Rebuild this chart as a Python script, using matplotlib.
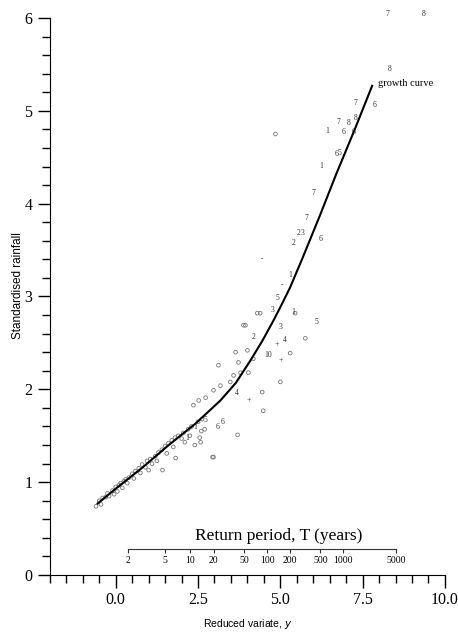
import numpy as np
import matplotlib.pyplot as plt
from matplotlib.ticker import MultipleLocator

# growth curve (reduced variate y, standardised rainfall)
curve_x = [-0.55, 0.0, 0.82, 1.61, 2.42, 3.18, 3.65, 4.09, 4.45, 4.79, 5.05, 5.30, 5.67, 6.2, 6.7, 7.25, 7.79]
curve_y = [0.77, 0.93, 1.16, 1.40, 1.63, 1.88, 2.07, 2.31, 2.52, 2.74, 2.92, 3.10, 3.41, 3.87, 4.32, 4.79, 5.27]

# small unlabelled points (dense lower part)
pts_x = [-0.6, -0.5, -0.45, -0.4, -0.3, -0.25, -0.2, -0.1, -0.05, 0.0, 0.05, 0.1, 0.15, 0.2,
         0.25, 0.3, 0.35, 0.4, 0.5, 0.55, 0.6, 0.7, 0.75, 0.8, 0.9, 0.95, 1.0, 1.05, 1.1, 1.2,
         1.25, 1.3, 1.4, 1.42, 1.5, 1.55, 1.6, 1.7, 1.75, 1.8, 1.82, 1.9, 2.0, 2.05, 2.1, 2.2,
         2.25, 2.3, 2.4, 2.5, 2.55, 2.58, 2.6, 2.62, 2.7, 2.94, 2.97, 3.7, 4.45, 4.48, 5.0,
         3.79, 4.03, 3.58, 3.12, 3.48, 3.18, 2.97, 2.73, 2.52, 2.36, 4.0, 3.64, 3.73, 4.18,
         5.3, 5.45, 5.76, 4.39, 3.88, 3.94, 4.3, 4.85]
pts_y = [0.74, 0.80, 0.76, 0.83, 0.84, 0.88, 0.85, 0.91, 0.87, 0.95, 0.90, 0.97, 0.99, 0.94,
         1.01, 1.03, 0.99, 1.05, 1.09, 1.04, 1.12, 1.15, 1.10, 1.19, 1.16, 1.23, 1.13, 1.25, 1.20, 1.28,
         1.23, 1.32, 1.35, 1.13, 1.39, 1.31, 1.42, 1.45, 1.38, 1.48, 1.26, 1.50, 1.47, 1.53, 1.43, 1.57,
         1.50, 1.60, 1.40, 1.65, 1.48, 1.43, 1.55, 1.68, 1.57, 1.27, 1.27, 1.51, 1.97, 1.77, 2.08,
         2.18, 2.18, 2.15, 2.26, 2.08, 2.04, 1.99, 1.91, 1.88, 1.83, 2.42, 2.40, 2.29, 2.33,
         2.39, 2.82, 2.55, 2.82, 2.69, 2.69, 2.82, 4.75]

# labelled station points (digits)
lab_x = [8.24, 9.36, 8.33, 7.85, 7.27, 6.76, 7.09, 7.30, 6.42, 6.91, 7.21, 6.70, 6.79, 6.24,
         6.0, 5.8, 5.55, 5.67, 5.4, 6.21, 4.45, 5.3, 5.06, 4.9, 4.75, 5.4, 5.0, 6.09,
         5.0, 5.15, 4.9, 4.64, 4.18, 3.67, 4.03, 3.24, 3.09, 2.73, 2.42, 2.18]
lab_y = [6.04, 6.04, 5.45, 5.06, 5.08, 4.88, 4.87, 4.92, 4.78, 4.77, 4.77, 4.54, 4.55, 4.41,
         4.12, 3.85, 3.68, 3.68, 3.58, 3.62, 3.40, 3.23, 3.12, 2.98, 2.85, 2.83, 2.67, 2.72,
         2.31, 2.53, 2.49, 2.37, 2.56, 1.96, 1.88, 1.65, 1.59, 1.67, 1.59, 1.48]
lab_txt = ['7', '8', '8', '6', '7', '7', '8', '8', '1', '6', '6', '6', '5', '1',
           '7', '7', '2', '3', '2', '6', '-', '1', '-', '5', '3', '1', '3', '5',
           '+', '4', '+', '10', '2', '4', '+', '6', '6', '5', '1', '1']

# return periods shown on the upper scale
T_years = [2, 5, 10, 20, 50, 100, 200, 500, 1000, 5000]

fig = plt.figure(figsize=(4.58, 6.33), dpi=100)
ax = fig.add_axes([0.109, 0.0916, 0.8624, 0.88])

ax.plot(curve_x, curve_y, color='black', lw=1.5, zorder=3, solid_joinstyle='round')
ax.scatter(pts_x, pts_y, marker='o', s=7, lw=0.6, facecolors='none',
           edgecolors='#777777', zorder=2)
for x, y, t in zip(lab_x, lab_y, lab_txt):
    ax.text(x, y, t, fontsize=5.5, family='Liberation Serif', color='#333333',
            ha='center', va='center', clip_on=False)

ax.text(7.97, 5.29, 'growth curve', fontsize=7.5, family='Liberation Serif', va='center')

# return period scale (Gumbel reduced variate)
T_pos = [-np.log(-np.log(1 - 1 / t)) for t in T_years]
yl = 0.28
ax.plot([T_pos[0], T_pos[-1]], [yl, yl], color='#333333', lw=0.8)
ax.vlines(T_pos, yl - 0.045, yl, color='#333333', lw=0.8)
for p, t in zip(T_pos, T_years):
    ax.text(p, yl - 0.12, str(t), fontsize=7, family='Liberation Serif',
            ha='center', va='center')
ax.text(4.94, 0.42, 'Return period, T (years)', fontsize=12.5,
        family='Liberation Serif', ha='center', va='center')

ax.set_xlim(-2, 10)
ax.set_ylim(0, 6)
ax.spines['top'].set_visible(False)
ax.spines['right'].set_visible(False)
ax.xaxis.set_major_locator(MultipleLocator(2.5))
ax.xaxis.set_minor_locator(MultipleLocator(0.5))
ax.yaxis.set_major_locator(MultipleLocator(1))
ax.yaxis.set_minor_locator(MultipleLocator(0.2))
ax.tick_params(which='major', length=9, width=1)
ax.tick_params(which='minor', length=6, width=1)
ax.set_xticks([0, 2.5, 5, 7.5, 10])
ax.set_xticklabels(['0.0', '2.5', '5.0', '7.5', '10.0'], family='Liberation Serif', fontsize=11.5)
ax.set_yticks([0, 1, 2, 3, 4, 5, 6])
ax.set_yticklabels(['0', '1', '2', '3', '4', '5', '6'], family='Liberation Serif', fontsize=11.5)

ax.set_xlabel('Reduced variate, $y$', family='Liberation Sans', fontsize=7.5, labelpad=6)
ax.set_ylabel('Standardised rainfall', family='Liberation Sans', fontsize=8.5)
ax.yaxis.set_label_coords(-0.066, 0.52)

fig.savefig('out.png', dpi=100)
